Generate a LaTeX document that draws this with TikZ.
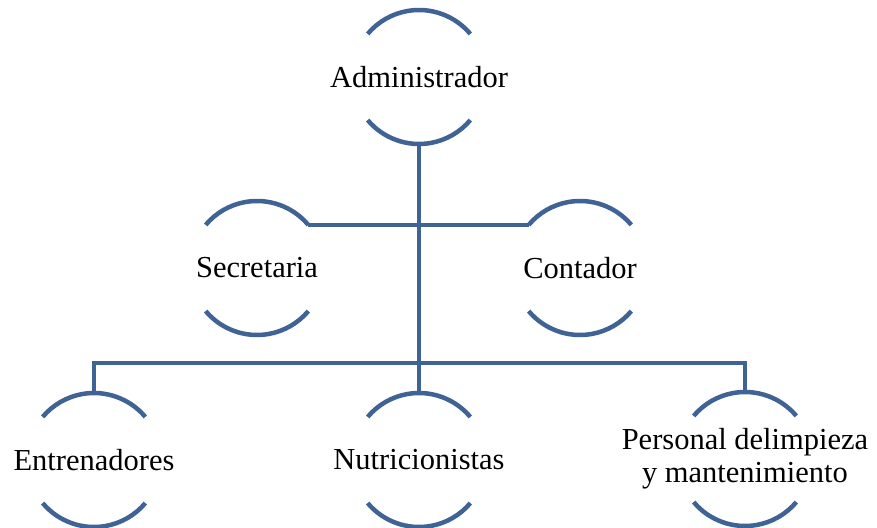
\documentclass[tikz,border=0pt]{standalone}
\usepackage{fontspec}
\setmainfont{Liberation Serif}
\definecolor{azul}{RGB}{62,99,148}
\tikzset{
  unidad/.style = {circle, minimum size = 134pt, inner sep = 0pt, outer sep = 0pt},
  texto/.style = {font = \fontsize{30.5}{33}\selectfont, align = center, inner sep = 0pt},
  arco/.style = {draw = azul, line width = 4.5pt}
}
\begin{document}
\begin{tikzpicture}[x = 1pt, y = 1pt]
\useasboundingbox (0,0) rectangle (877,527);
\node[unidad, label = {[texto]center:Administrador}] (adm) at (419,450) {};
\node[unidad, label = {[texto]center:Secretaria}] (sec) at (257,259) {};
\node[unidad, label = {[texto]center:Contador}] (con) at (580,259) {};
\node[unidad, label = {[texto]center:Entrenadores}] (ent) at (94,67) {};
\node[unidad, label = {[texto]center:Nutricionistas}] (nut) at (419,67) {};
\node[unidad, label = {[texto]center:Personal delimpieza\\y mantenimiento}] (per) at (745,68) {};
\foreach \n in {adm,sec,con,ent,nut,per} {
  \draw [arco] (\n.40) arc (40:140:67pt);
  \draw [arco] (\n.220) arc (220:320:67pt);
}
\draw [arco] (sec.40) -- (con.140);
\draw [arco] (adm.south) -- (nut.north);
\coordinate (bus) at (94,164);
\draw [arco] (ent.north) -- (bus) -| (per.north);
\end{tikzpicture}
\end{document}
